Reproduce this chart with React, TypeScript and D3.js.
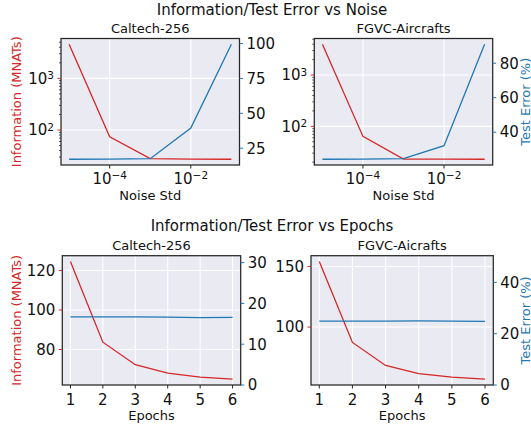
import React from 'react';
import * as d3 from 'd3';

// ---- data ----
const noiseStd = [1e-5, 1e-4, 1e-3, 1e-2, 1e-1];
const caltechNoiseInfo = [4570, 74, 27.9, 27.3, 27.2];
const caltechNoiseErr = [17.1, 17.2, 17.5, 39.4, 99.5];
const aircraftNoiseInfo = [3990, 63.6, 22.9, 22.9, 22.8];
const aircraftNoiseErr = [24.3, 24.4, 24.7, 32.2, 91.0];

const epochs = [1, 2, 3, 4, 5, 6];
const caltechEpochInfo = [124.5, 83.7, 72.3, 68.0, 66.0, 65.0];
const caltechEpochErr = [16.7, 16.7, 16.7, 16.65, 16.5, 16.6];
const aircraftEpochInfo = [154.1, 87.3, 68.3, 61.5, 58.7, 57.0];
const aircraftEpochErr = [24.9, 24.9, 24.9, 25.0, 24.9, 24.8];

// ---- ticks ----
const noiseTicks = [1e-4, 1e-2];
const epochTicks = [1, 2, 3, 4, 5, 6];
const noiseInfoTicks = [100, 1000];
const caltechNoiseErrTicks = [25, 50, 75, 100];
const aircraftNoiseErrTicks = [40, 60, 80];
const caltechEpochInfoTicks = [80, 100, 120];
const caltechEpochErrTicks = [0, 10, 20, 30];
const aircraftEpochInfoTicks = [100, 150];
const aircraftEpochErrTicks = [0, 20, 40];
const caltechEpochErrLim = [0, 31.7];
const aircraftEpochErrLim = [0, 50.4];

const RED = '#d62728';
const BLUE = '#1f77b4';
const FONT = 'DejaVu Sans';
const TICK_FS = 15;
const LABEL_FS = 13;

function padLinear(vals: number[]): [number, number] {
  const mn = d3.min(vals)!, mx = d3.max(vals)!;
  const r = mx - mn;
  return [mn - 0.05 * r, mx + 0.05 * r];
}
function padLog(vals: number[]): [number, number] {
  const mn = Math.log10(d3.min(vals)!), mx = Math.log10(d3.max(vals)!);
  const r = mx - mn;
  return [Math.pow(10, mn - 0.05 * r), Math.pow(10, mx + 0.05 * r)];
}

function LogLabel({ v }: { v: number }) {
  const e = Math.round(Math.log10(v));
  const s = e < 0 ? '\u2212' + Math.abs(e) : String(e);
  return (
    <>
      <tspan>10</tspan>
      <tspan dy="-0.45em" fontSize="0.7em">{s}</tspan>
    </>
  );
}

type PanelProps = {
  box: [number, number, number, number]; // x0, x1, yTop, yBottom
  xLog: boolean;
  xs: number[];
  xTicks: number[];
  left: number[];
  leftLog: boolean;
  leftTicks: number[];
  right: number[];
  rightTicks: number[];
  rightLim?: number[];
  title: string;
  xlabel: string;
  xlabelY: number;
  xtickY: number;
  showLeftLabel: boolean;
  showRightLabel: boolean;
};

function Panel(p: PanelProps) {
  const [x0, x1, yT, yB] = p.box;
  const x = p.xLog
    ? d3.scaleLog().domain(padLog(p.xs)).range([x0, x1])
    : d3.scaleLinear().domain(padLinear(p.xs)).range([x0, x1]);
  const yl = p.leftLog
    ? d3.scaleLog().domain(padLog(p.left)).range([yB, yT])
    : d3.scaleLinear().domain(padLinear(p.left)).range([yB, yT]);
  const yr = d3.scaleLinear().domain(p.rightLim ? p.rightLim : padLinear(p.right)).range([yB, yT]);

  const redLine = d3.line<number>().x((_, i) => x(p.xs[i])).y(d => yl(d))(p.left)!;
  const blueLine = d3.line<number>().x((_, i) => x(p.xs[i])).y(d => yr(d))(p.right)!;

  const minor: number[] = [];
  if (p.leftLog) {
    const [d0, d1] = yl.domain();
    for (let e = Math.floor(Math.log10(d0)); e <= Math.ceil(Math.log10(d1)); e++) {
      for (let m = 2; m <= 9; m++) {
        const v = m * Math.pow(10, e);
        if (v >= d0 && v <= d1) minor.push(v);
      }
    }
  }
  const cx = (x0 + x1) / 2;
  const cy = (yT + yB) / 2;

  return (
    <g fontFamily={FONT}>
      <rect x={x0} y={yT} width={x1 - x0} height={yB - yT} fill="#EAEAF2" />
      {p.xTicks.map((t, i) => (
        <line key={'gx' + i} x1={x(t)} x2={x(t)} y1={yT} y2={yB} stroke="#fff" strokeWidth={1.1} />
      ))}
      {p.leftTicks.map((t, i) => (
        <line key={'gy' + i} x1={x0} x2={x1} y1={yl(t)} y2={yl(t)} stroke="#fff" strokeWidth={1.1} />
      ))}
      <path d={redLine} fill="none" stroke={RED} strokeWidth={1.3} />
      <path d={blueLine} fill="none" stroke={BLUE} strokeWidth={1.3} />
      <rect x={x0} y={yT} width={x1 - x0} height={yB - yT} fill="none" stroke="#262626" strokeWidth={1.25} />
      {/* x ticks */}
      {p.xTicks.map((t, i) => (
        <g key={'xt' + i}>
          <line x1={x(t)} x2={x(t)} y1={yB} y2={yB + 3.5} stroke="#262626" strokeWidth={1} />
          <text x={x(t)} y={p.xtickY} fontSize={TICK_FS} textAnchor="middle" fill="#111">
            {p.xLog ? <LogLabel v={t} /> : String(t)}
          </text>
        </g>
      ))}
      {/* left ticks */}
      {minor.map((t, i) => (
        <line key={'mn' + i} x1={x0} x2={x0 - 2} y1={yl(t)} y2={yl(t)} stroke="#262626" strokeWidth={0.8} />
      ))}
      {p.leftTicks.map((t, i) => (
        <g key={'yl' + i}>
          <line x1={x0} x2={x0 - 3.5} y1={yl(t)} y2={yl(t)} stroke={RED} strokeWidth={1} />
          <text x={x0 - 7} y={yl(t) + 5.3} fontSize={TICK_FS} textAnchor="end" fill="#111">
            {p.leftLog ? <LogLabel v={t} /> : String(t)}
          </text>
        </g>
      ))}
      {/* right ticks */}
      {p.rightTicks.map((t, i) => (
        <g key={'yr' + i}>
          <line x1={x1} x2={x1 + 3.5} y1={yr(t)} y2={yr(t)} stroke={BLUE} strokeWidth={1} />
          <text x={x1 + 7} y={yr(t) + 5.3} fontSize={TICK_FS} textAnchor="start" fill="#111">
            {String(t)}
          </text>
        </g>
      ))}
      <text x={cx} y={yT - 5.5} fontSize={13} textAnchor="middle" fill="#111">{p.title}</text>
      <text x={cx} y={p.xlabelY} fontSize={LABEL_FS} textAnchor="middle" fill="#111">{p.xlabel}</text>
      {p.showLeftLabel && (
        <text transform={`translate(21,${cy}) rotate(-90)`} fontSize={LABEL_FS} textAnchor="middle" fill={RED}>
          Information (MNATs)
        </text>
      )}
      {p.showRightLabel && (
        <text transform={`translate(529.5,${cy}) rotate(-90)`} fontSize={LABEL_FS} textAnchor="middle" fill={BLUE}>
          Test Error (%)
        </text>
      )}
    </g>
  );
}

export default function App() {
  return (
    <svg width={531} height={425} style={{ position: 'absolute', left: 0, top: 0, background: '#fff' }}>
      <text x={272} y={15} fontFamily={FONT} fontSize={15} textAnchor="middle" fill="#111">
        Information/Test Error vs Noise
      </text>
      <text x={272} y={231} fontFamily={FONT} fontSize={15} textAnchor="middle" fill="#111">
        Information/Test Error vs Epochs
      </text>
      <Panel
        box={[61, 239.5, 38.5, 165]}
        xLog={true} xs={noiseStd} xTicks={noiseTicks}
        left={caltechNoiseInfo} leftLog={true} leftTicks={noiseInfoTicks}
        right={caltechNoiseErr} rightTicks={caltechNoiseErrTicks}
        title="Caltech-256" xlabel="Noise Std" xlabelY={200} xtickY={184}
        showLeftLabel={true} showRightLabel={false}
      />
      <Panel
        box={[314.3, 492.7, 38.5, 165]}
        xLog={true} xs={noiseStd} xTicks={noiseTicks}
        left={aircraftNoiseInfo} leftLog={true} leftTicks={noiseInfoTicks}
        right={aircraftNoiseErr} rightTicks={aircraftNoiseErrTicks}
        title="FGVC-Aircrafts" xlabel="Noise Std" xlabelY={200} xtickY={184}
        showLeftLabel={false} showRightLabel={true}
      />
      <Panel
        box={[62.3, 240.7, 255.7, 385]}
        xLog={false} xs={epochs} xTicks={epochTicks}
        left={caltechEpochInfo} leftLog={false} leftTicks={caltechEpochInfoTicks}
        right={caltechEpochErr} rightTicks={caltechEpochErrTicks} rightLim={caltechEpochErrLim}
        title="Caltech-256" xlabel="Epochs" xlabelY={420} xtickY={404.5}
        showLeftLabel={true} showRightLabel={false}
      />
      <Panel
        box={[311, 493.3, 255.7, 385]}
        xLog={false} xs={epochs} xTicks={epochTicks}
        left={aircraftEpochInfo} leftLog={false} leftTicks={aircraftEpochInfoTicks}
        right={aircraftEpochErr} rightTicks={aircraftEpochErrTicks} rightLim={aircraftEpochErrLim}
        title="FGVC-Aicrafts" xlabel="Epochs" xlabelY={420} xtickY={404.5}
        showLeftLabel={false} showRightLabel={true}
      />
    </svg>
  );
}
